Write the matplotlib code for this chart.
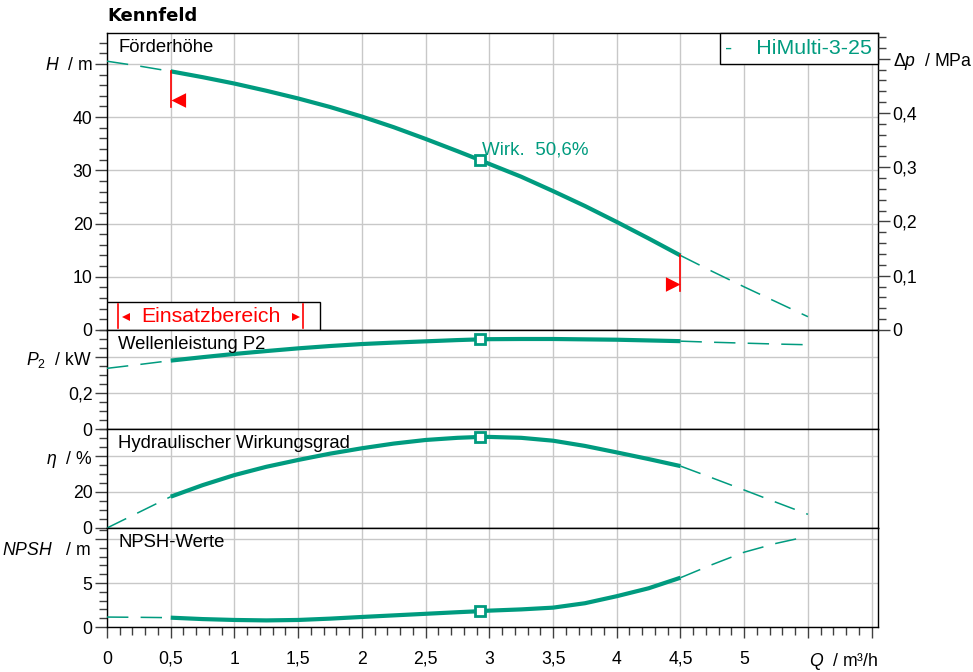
import matplotlib.pyplot as plt
from matplotlib.ticker import MultipleLocator, FixedLocator
import numpy as np

plt.rcParams['font.family'] = ['Liberation Sans', 'DejaVu Sans']
plt.rcParams['mathtext.fontset'] = 'custom'
plt.rcParams['mathtext.rm'] = 'Liberation Sans'
plt.rcParams['mathtext.it'] = 'Liberation Sans:italic'

# values
q = [0, 0.25, 0.5, 0.75, 1.0, 1.25, 1.5, 1.75, 2.0, 2.25, 2.5, 2.75, 2.93, 3.0,
     3.25, 3.5, 3.75, 4.0, 4.25, 4.5, 4.75, 5.0, 5.25, 5.5]
head = [50.5, 49.6, 48.6, 47.5, 46.3, 44.95, 43.5, 41.9, 40.1, 38.1, 35.9, 33.6, 31.9, 31.2,
        28.8, 26.1, 23.3, 20.3, 17.2, 14.0, 11.0, 8.1, 5.3, 2.5]
power = [0.337, 0.358, 0.380, 0.399, 0.417, 0.433, 0.448, 0.461, 0.472, 0.480, 0.487, 0.494,
         0.498, 0.499, 0.500, 0.500, 0.498, 0.496, 0.492, 0.488, 0.482, 0.477, 0.472, 0.468]
eta = [0, 8.7, 17.4, 23.8, 29.4, 34.0, 37.8, 41.3, 44.3, 46.9, 48.9, 50.1, 50.6, 50.6,
       50.1, 48.5, 45.6, 42.0, 38.3, 34.4, 27.8, 21.1, 14.3, 7.6]
npsh = [1.13, 1.1, 1.06, 0.9, 0.8, 0.75, 0.8, 0.95, 1.14, 1.32, 1.5, 1.68, 1.8, 1.86,
        2.0, 2.2, 2.7, 3.5, 4.4, 5.6, 7.1, 8.5, 9.5, 10.3]

q_min, q_max = 0.5, 4.5      # operating range
q_bep = 2.93
eta_bep = 50.6
pump = "HiMulti-3-25"

teal = "#009B7F"
grid_c = "#c8c8c8"
tick_c = "#404040"
fs_tick = 12.7
fs_label = 13.3

fig = plt.figure(figsize=(9.73, 6.72), dpi=100)
left, width = 107 / 973, 771 / 973

def frac(y):
    return 1 - y / 672

ax_h = fig.add_axes([left, frac(330), width, frac(33) - frac(330)])
ax_p = fig.add_axes([left, frac(429), width, frac(330) - frac(429)], sharex=ax_h)
ax_e = fig.add_axes([left, frac(528), width, frac(429) - frac(528)], sharex=ax_h)
ax_n = fig.add_axes([left, frac(627), width, frac(528) - frac(627)], sharex=ax_h)

qa = np.array(q)
solid = (qa >= q_min) & (qa <= q_max)
dash_lo = qa <= q_min
dash_hi = qa >= q_max

def curve(ax, vals):
    v = np.array(vals)
    ax.plot(qa[solid], v[solid], color=teal, lw=3, solid_capstyle='butt',
            solid_joinstyle='round', zorder=4)
    for m in (dash_lo, dash_hi):
        ax.plot(qa[m], v[m], color=teal, lw=1.1, dashes=(14, 8), zorder=4)
    ax.plot([q_bep], [np.interp(q_bep, qa, v)], marker='s', ms=7, mfc='white',
            mec=teal, mew=2, zorder=5)

def style(ax, ymax, major, minor, labels, label_text):
    ax.set_xlim(0, 6.05)
    ax.set_ylim(0, ymax)
    ticks = [major * i for i in range(len(labels))]
    ax.yaxis.set_major_locator(FixedLocator(ticks))
    ax.set_yticklabels(labels)
    ax.yaxis.set_minor_locator(MultipleLocator(minor))
    ax.xaxis.set_major_locator(MultipleLocator(0.5))
    ax.xaxis.set_minor_locator(MultipleLocator(0.1))
    ax.grid(True, which='major', color=grid_c, lw=1, zorder=0)
    ax.tick_params(axis='y', which='major', length=8.5, width=1, color=tick_c,
                   labelsize=fs_tick, pad=2)
    ax.tick_params(axis='y', which='minor', length=5.5, width=1, color=tick_c)
    ax.tick_params(axis='x', which='both', bottom=False, labelbottom=False)
    for s in ax.spines.values():
        s.set_color('black')
        s.set_linewidth(1)
    ax.annotate(label_text, xy=(11 / 771, 1), xycoords='axes fraction',
                xytext=(0, -4.6), textcoords='offset points', fontsize=fs_label,
                va='top', ha='left', zorder=6)

# --- Förderhöhe
style(ax_h, 55.8, 10, 2, ['0', '10', '20', '30', '40', '$\\mathit{H}$  / m'], 'Förderhöhe')
curve(ax_h, head)
eta_txt = f"{eta_bep:.1f}".replace('.', ',')
ax_h.text(q_bep + 0.01, 33.8, f"Wirk.  {eta_txt}%", color=teal,
          fontsize=13.5, va='center', ha='left', zorder=6)
ax_h.annotate(f"-    {pump}", xy=(1, 1), xycoords='axes fraction', xytext=(-4.2, -4.2),
              textcoords='offset points', ha='right', va='top', color=teal,
              fontsize=15.4, zorder=7,
              bbox=dict(boxstyle='square,pad=0.27', fc='white', ec='black', lw=1))

# operating range markers
h_lo = np.interp(q_min, qa, head)
h_hi = np.interp(q_max, qa, head)
ax_h.plot([q_min, q_min], [h_lo, 41.9], color='red', lw=1.2, zorder=5)
ax_h.plot([q_max, q_max], [h_hi, 7.4], color='red', lw=1.2, zorder=5)
tri_l = [(0, 0), (1, 0.5), (1, -0.5), (0, 0)]
tri_r = [(0, 0), (-1, 0.5), (-1, -0.5), (0, 0)]
ax_h.plot([q_min], [43.2], marker=tri_l, ms=21, color='red', mew=0, zorder=5)
ax_h.plot([q_max], [8.6], marker=tri_r, ms=21, color='red', mew=0, zorder=5)

# Einsatzbereich box
ax_h.add_patch(plt.Rectangle((0, 0), 1.67, 5.26, fc='white', ec='black', lw=1, zorder=6))
for xb in (0.086, 1.54):
    ax_h.plot([xb, xb], [0.4, 4.8], color='red', lw=1.2, zorder=7)
ax_h.plot([0.15], [2.5], marker='<', ms=6, color='red', mew=0, zorder=7)
ax_h.plot([1.48], [2.5], marker='>', ms=6, color='red', mew=0, zorder=7)
ax_h.text(0.815, 2.5, "Einsatzbereich", color='red', fontsize=15.3, ha='center',
          va='center', zorder=7)

# right axis in MPa
ax_r = ax_h.twinx()
mpa_per_m = 0.00981
ax_r.set_ylim(0, 55.8 * mpa_per_m)
ax_r.yaxis.set_major_locator(FixedLocator([0, 0.1, 0.2, 0.3, 0.4, 0.5]))
ax_r.set_yticklabels(['0', '0,1', '0,2', '0,3', '0,4', '$\\mathit{\\Delta p}$  / MPa'])
ax_r.yaxis.set_minor_locator(MultipleLocator(0.02))
ax_r.tick_params(axis='y', which='major', length=8.5, width=1, color=tick_c,
                 labelsize=fs_tick, pad=2)
ax_r.tick_params(axis='y', which='minor', length=5.5, width=1, color=tick_c)
for s in ax_r.spines.values():
    s.set_visible(False)

# --- Wellenleistung
style(ax_p, 0.55, 0.2, 0.05, ['0', '0,2', '$\\mathit{P}_2$  / kW'], 'Wellenleistung P2')
curve(ax_p, power)

# --- Wirkungsgrad
style(ax_e, 55, 20, 5, ['0', '20', '$\\mathit{\\eta}$  / %'], 'Hydraulischer Wirkungsgrad')
curve(ax_e, eta)

# --- NPSH
style(ax_n, 11.25, 5, 1, ['0', '5', ''], 'NPSH-Werte')
curve(ax_n, npsh)
ax_n.text(-0.021, 0.77, '$\\mathit{NPSH}$   / m', transform=ax_n.transAxes,
          ha='right', va='center', fontsize=fs_tick)
ax_n.tick_params(axis='x', which='both', bottom=True, labelbottom=True,
                 labelsize=fs_tick, color=tick_c, width=1)
ax_n.tick_params(axis='x', which='major', length=8, pad=9)
ax_n.tick_params(axis='x', which='minor', length=5.5)
xt = [0.5 * i for i in range(13)]
ax_n.set_xticks(xt)
ax_n.set_xticklabels([('%g' % t).replace('.', ',') if t <= 5 else '' for t in xt])
ax_n.annotate('$\\mathit{Q}$  / m³/h', xy=(1, 0), xycoords='axes fraction',
              xytext=(0, -17), textcoords='offset points', ha='right', va='top',
              fontsize=fs_tick)

fig.text(left, frac(16), "Kennfeld", fontsize=13, fontweight='bold',
         family='DejaVu Sans', va='center', ha='left')

fig.savefig("out.png", dpi=100)
